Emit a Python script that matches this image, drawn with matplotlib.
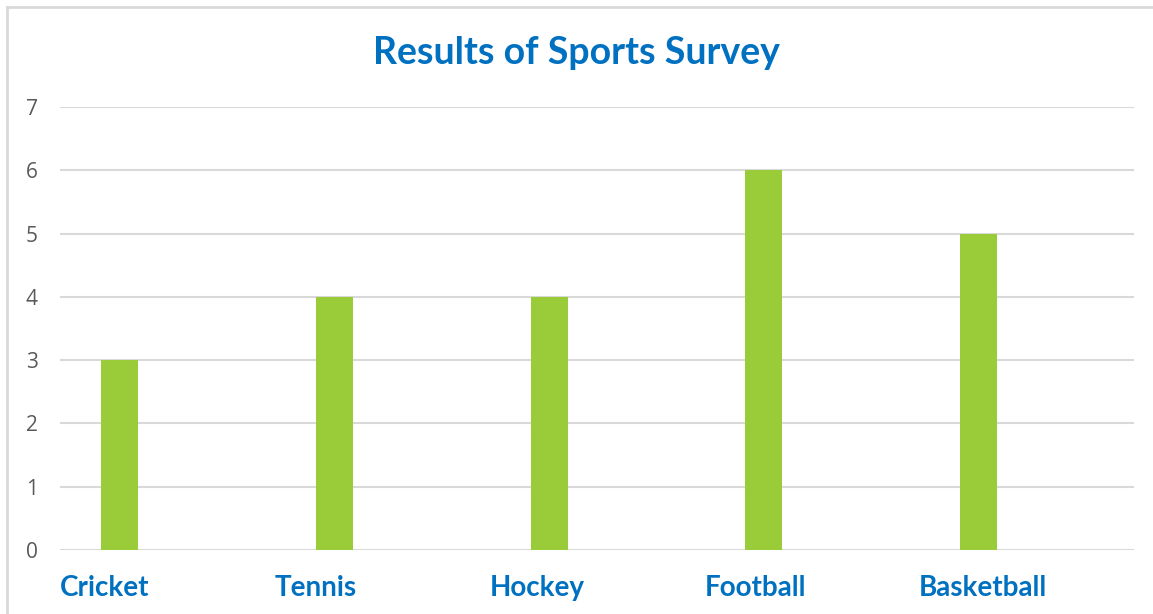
import matplotlib.pyplot as plt
import numpy as np

# survey data
sports = ['Cricket', 'Tennis', 'Hockey', 'Football', 'Basketball']
votes = [3, 4, 4, 6, 5]
y_ticks = [0, 1, 2, 3, 4, 5, 6, 7]

blue = '#0070C0'
green = '#9ACB38'
grid_col = '#D9D9D9'

fig = plt.figure(figsize=(11.53, 6.14), dpi=100)
ax = fig.add_axes([60/1153, 1 - 550/614, 1074/1153, 443/614])

x = np.arange(len(sports))
# bars sit left of the category centre (first slot of a cluster)
ax.bar(x - 0.223, votes, width=0.172, color=green, zorder=3)

ax.set_xlim(-0.5, len(sports) - 0.5)
ax.set_ylim(0, 7)
ax.set_yticks(y_ticks)
ax.set_yticklabels([str(t) for t in y_ticks], fontsize=15, color='#595959',
                   family='Open Sans')
ax.tick_params(axis='y', length=0, pad=16)
ax.set_xticks([])
ax.grid(axis='y', color=grid_col, linewidth=1.5, zorder=0)
for s in ax.spines.values():
    s.set_visible(False)

# category labels left aligned at the start of each category
for i, name in enumerate(sports):
    ax.text(i - 0.5, -0.6, name, ha='left', va='center', fontsize=20,
            fontweight='bold', color=blue, family='Lato')

fig.text(0.5, 1 - 53/614, 'Results of Sports Survey', ha='center', va='center',
         fontsize=27, fontweight='bold', color=blue, family='Lato')

# outer chart border
fig.add_artist(plt.Line2D([7/1153, 7/1153], [0, 1 - 7/614],
                          transform=fig.transFigure, color=grid_col, lw=2))
fig.add_artist(plt.Line2D([7/1153, 1], [1 - 7/614, 1 - 7/614],
                          transform=fig.transFigure, color=grid_col, lw=2))

fig.savefig('out.png', dpi=100)
